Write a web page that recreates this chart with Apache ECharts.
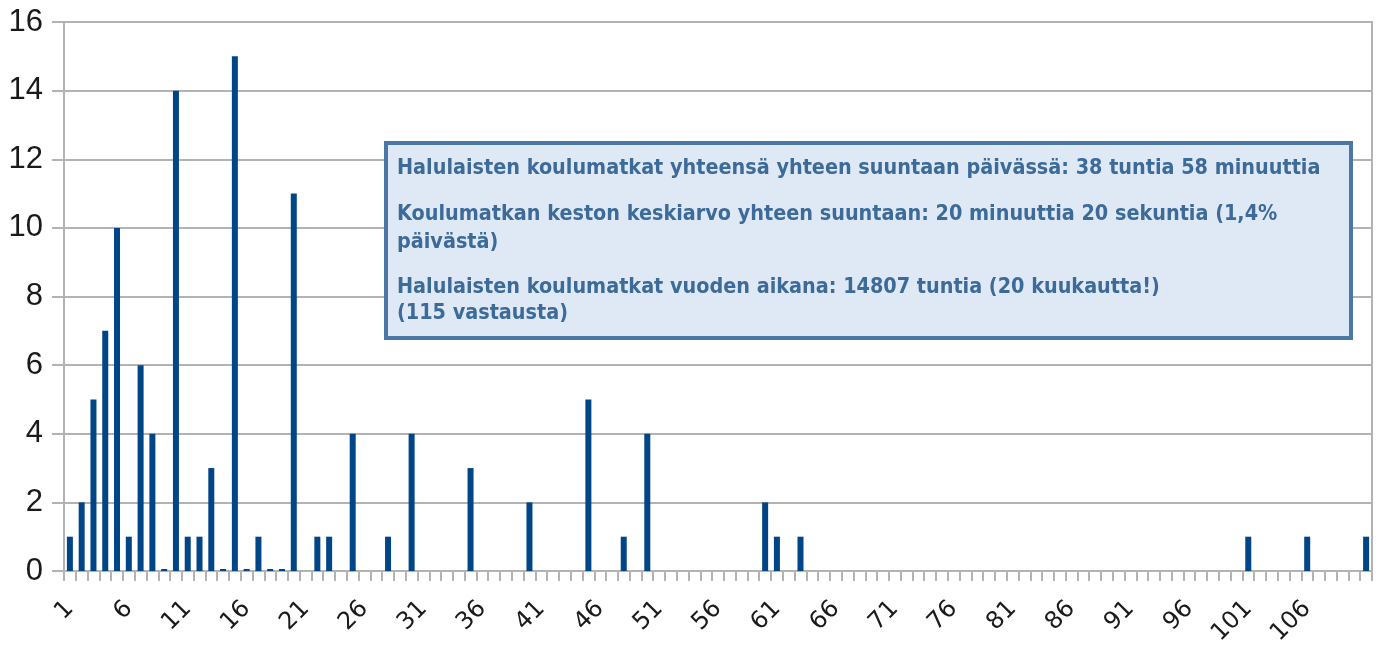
<!DOCTYPE html>
<html>
<head>
<meta charset="utf-8">
<script src="https://cdn.jsdelivr.net/npm/echarts@6/dist/echarts.min.js"></script>
<style>html,body{margin:0;padding:0;background:#fff}#c{width:1384px;height:648px}</style>
</head>
<body>
<div id="c"></div>
<script>
// Categories: minutes 1..111
const categories = [];
for (let i = 1; i <= 111; i++) categories.push(String(i));

// Counts per category (null = no entry, 0 = explicit zero)
const counts = {
  1: 1, 2: 2, 3: 5, 4: 7, 5: 10, 6: 1, 7: 6, 8: 4, 9: 0, 10: 14,
  11: 1, 12: 1, 13: 3, 14: 0, 15: 15, 16: 0, 17: 1, 18: 0, 19: 0, 20: 11,
  22: 1, 23: 1, 25: 4, 28: 1, 30: 4, 35: 3, 40: 2, 45: 5, 48: 1, 50: 4,
  60: 2, 61: 1, 63: 1, 101: 1, 106: 1, 111: 1
};
const values = categories.map(c => (c in counts ? counts[c] : null));

// Shown x tick labels
const xTickLabels = ['1','6','11','16','21','26','31','36','41','46','51','56','61','66','71','76','81','86','91','96','101','106'];
const yTicks = [0, 2, 4, 6, 8, 10, 12, 14, 16];

const noteLines = [
  "Halulaisten koulumatkat yhteensä yhteen suuntaan päivässä: 38 tuntia 58 minuuttia",
  "Koulumatkan keston keskiarvo yhteen suuntaan: 20 minuuttia 20 sekuntia (1,4%",
  "päivästä)",
  "Halulaisten koulumatkat vuoden aikana: 14807 tuntia (20 kuukautta!)",
  "(115 vastausta)"
];
const noteY = [167, 213, 241, 286, 312];

const chart = echarts.init(document.getElementById('c'));
const grey = '#b3b3b3';
const textEls = noteLines.map((t, i) => ({
  type: 'text', left: 397, top: noteY[i] - 9, z: 101,
  style: { text: t, fill: '#3c6a99', font: 'bold 21.4px "DejaVu Sans Condensed", "DejaVu Sans"' }
}));
chart.setOption({
  animation: false,
  grid: { left: 64, right: 12, top: 22, bottom: 75, show: true, borderColor: grey, borderWidth: 2 },
  xAxis: {
    type: 'category', data: categories, boundaryGap: true,
    axisLine: { lineStyle: { color: grey, width: 2 } },
    axisTick: { show: true, interval: 0, length: 10, lineStyle: { color: grey, width: 2 } },
    axisLabel: {
      interval: (idx, val) => xTickLabels.indexOf(val) >= 0,
      rotate: 45, fontFamily: 'DejaVu Sans', fontSize: 24, color: '#1a1a1a', margin: 34
    },
    splitLine: { show: false }
  },
  yAxis: {
    type: 'value', min: yTicks[0], max: yTicks[yTicks.length - 1], interval: 2,
    axisLine: { show: true, lineStyle: { color: grey, width: 2 } },
    axisTick: { show: true, length: 12, lineStyle: { color: grey, width: 2 } },
    axisLabel: { fontFamily: 'Liberation Sans', fontSize: 31, color: '#1a1a1a', margin: 21 },
    splitLine: { show: true, lineStyle: { color: grey, width: 2 } }
  },
  series: [{
    type: 'bar', data: values, barWidth: 6, barMinHeight: 2,
    itemStyle: { color: '#004586' }
  }],
  graphic: [
    { type: 'rect', left: 384, top: 141, z: 100,
      shape: { width: 965, height: 195 },
      style: { fill: '#dfe9f5', stroke: '#4a77a3', lineWidth: 4 } },
    ...textEls
  ]
});
</script>
</body>
</html>
